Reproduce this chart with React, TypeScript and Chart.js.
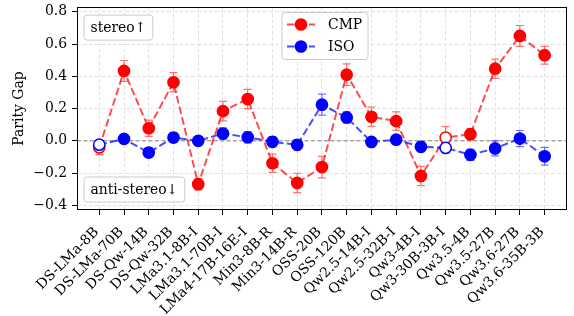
import React, { useEffect, useRef } from "react";
import { Chart, registerables } from "chart.js";

Chart.register(...registerables);

const models = [
  "DS-LMa-8B", "DS-LMa-70B", "DS-Qw-14B", "DS-Qw-32B", "LMa3.1-8B-I", "LMa3.1-70B-I",
  "LMa4-17B-16E-I", "Min3-8B-R", "Min3-14B-R", "OSS-20B", "OSS-120B", "Qw2.5-14B-I",
  "Qw2.5-32B-I", "Qw3-4B-I", "Qw3-30B-3B-I", "Qw3.5-4B", "Qw3.5-27B", "Qw3.6-27B", "Qw3.6-35B-3B",
];
const cmpValues = [-0.041, 0.433, 0.078, 0.363, -0.269, 0.184, 0.259, -0.139, -0.261, -0.163, 0.41, 0.149, 0.122, -0.218, 0.02, 0.041, 0.447, 0.65, 0.531];
const cmpErrors = [0.045, 0.065, 0.05, 0.06, 0.035, 0.06, 0.06, 0.057, 0.06, 0.067, 0.067, 0.06, 0.057, 0.06, 0.068, 0.035, 0.06, 0.065, 0.055];
const isoValues = [-0.024, 0.012, -0.073, 0.02, 0.0, 0.045, 0.022, -0.006, -0.025, 0.224, 0.145, -0.007, 0.007, -0.037, -0.044, -0.087, -0.047, 0.014, -0.096];
const isoErrors = [0.025, 0.025, 0.03, 0.03, 0.025, 0.035, 0.035, 0.03, 0.03, 0.065, 0.035, 0.025, 0.025, 0.03, 0.03, 0.035, 0.047, 0.05, 0.055];
const openMarkers = [0, 14];
const yTicks = [-0.4, -0.2, 0.0, 0.2, 0.4, 0.6, 0.8];
const seriesNames = ["CMP", "ISO"];
const topNote = "stereo\u2191";
const bottomNote = "anti-stereo\u2193";
const yTitle = "Parity Gap";

const FONT = "DejaVu Serif";
const FS = 13.9;
const RED = "#ff0000";
const BLUE = "#0000ff";
const RED_LINE = "rgba(255,0,0,0.7)";
const BLUE_LINE = "rgba(0,0,255,0.7)";
const RED_ERR = "rgba(255,0,0,0.55)";
const BLUE_ERR = "rgba(0,0,255,0.55)";
const errorSets = [cmpErrors, isoErrors];
const errColors = [RED_ERR, BLUE_ERR];
const lineColors = [RED_LINE, BLUE_LINE];
const markerColors = [RED, BLUE];

function roundBox(ctx: CanvasRenderingContext2D, x: number, y: number, w: number, h: number, r: number) {
  ctx.beginPath();
  ctx.moveTo(x + r, y);
  ctx.lineTo(x + w - r, y);
  ctx.arcTo(x + w, y, x + w, y + r, r);
  ctx.lineTo(x + w, y + h - r);
  ctx.arcTo(x + w, y + h, x + w - r, y + h, r);
  ctx.lineTo(x + r, y + h);
  ctx.arcTo(x, y + h, x, y + h - r, r);
  ctx.lineTo(x, y + r);
  ctx.arcTo(x, y, x + r, y, r);
  ctx.closePath();
}

const decorPlugin = {
  id: "decor",
  beforeDatasetsDraw(chart: any) {
    const { ctx, chartArea: a, scales } = chart;
    const xs = scales.x, ys = scales.y;
    ctx.save();
    // zero reference line
    const y0 = ys.getPixelForValue(0);
    ctx.strokeStyle = "#808080";
    ctx.lineWidth = 1;
    ctx.setLineDash([4, 2.5]);
    ctx.beginPath();
    ctx.moveTo(a.left, y0);
    ctx.lineTo(a.right, y0);
    ctx.stroke();
    ctx.setLineDash([]);
    // error bars
    const vals = [cmpValues, isoValues];
    vals.forEach((arr, s) => {
      ctx.strokeStyle = errColors[s];
      ctx.lineWidth = 1.2;
      arr.forEach((v, i) => {
        const e = errorSets[s][i];
        const px = xs.getPixelForValue(i);
        const yt = ys.getPixelForValue(v + e);
        const yb = ys.getPixelForValue(v - e);
        ctx.beginPath();
        ctx.moveTo(px, yt);
        ctx.lineTo(px, yb);
        ctx.moveTo(px - 4, yt);
        ctx.lineTo(px + 4, yt);
        ctx.moveTo(px - 4, yb);
        ctx.lineTo(px + 4, yb);
        ctx.stroke();
      });
    });
    ctx.restore();
  },
  afterDraw(chart: any) {
    const { ctx, chartArea: a } = chart;
    ctx.save();
    // frame
    ctx.strokeStyle = "#000";
    ctx.lineWidth = 1;
    ctx.strokeRect(Math.round(a.left) + 0.5, Math.round(a.top) + 0.5, Math.round(a.right - a.left) - 1, Math.round(a.bottom - a.top) - 1);

    ctx.font = `${FS}px "${FONT}"`;
    ctx.textBaseline = "middle";
    ctx.textAlign = "left";

    // annotation boxes
    const notes = [
      { t: topNote, y: a.top + 8 },
      { t: bottomNote, y: a.bottom - 33 },
    ];
    notes.forEach((n) => {
      const w = ctx.measureText(n.t).width + 13;
      roundBox(ctx, a.left + 7, n.y, w, 25, 3);
      ctx.fillStyle = "rgba(255,255,255,0.85)";
      ctx.fill();
      ctx.strokeStyle = "#cccccc";
      ctx.lineWidth = 1;
      ctx.stroke();
      ctx.fillStyle = "#000";
      ctx.fillText(n.t, a.left + 13.5, n.y + 13);
    });

    // legend
    const lx = 282, ly = 12.5, lw = 86, lh = 47;
    roundBox(ctx, lx, ly, lw, lh, 3);
    ctx.fillStyle = "rgba(255,255,255,0.85)";
    ctx.fill();
    ctx.strokeStyle = "#cccccc";
    ctx.lineWidth = 1;
    ctx.stroke();
    seriesNames.forEach((name, i) => {
      const cy = ly + 12 + i * 22;
      ctx.strokeStyle = lineColors[i];
      ctx.lineWidth = 2;
      ctx.setLineDash([7.7, 3.3]);
      ctx.beginPath();
      ctx.moveTo(lx + 5, cy);
      ctx.lineTo(lx + 33, cy);
      ctx.stroke();
      ctx.setLineDash([]);
      ctx.beginPath();
      ctx.arc(lx + 19, cy, 6.3, 0, Math.PI * 2);
      ctx.fillStyle = markerColors[i];
      ctx.fill();
      ctx.fillStyle = "#000";
      ctx.fillText(name, lx + 46, cy + 1);
    });

    // y title
    ctx.translate(19, (a.top + a.bottom) / 2);
    ctx.rotate(-Math.PI / 2);
    ctx.textAlign = "center";
    ctx.fillText(yTitle, 0, 0);
    ctx.restore();
  },
};

function makeDataset(label: string, values: number[], color: string, line: string, order: number) {
  return {
    label,
    data: values.map((v, i) => ({ x: i, y: v })),
    borderColor: line,
    borderWidth: 2,
    borderDash: [7.7, 3.3],
    pointRadius: 5.6,
    pointBorderWidth: 1.5,
    pointBorderColor: color,
    pointBackgroundColor: values.map((_, i) => (openMarkers.includes(i) ? "#ffffff" : color)),
    pointStyle: "circle",
    tension: 0,
    fill: false,
    order,
  };
}

export default function App() {
  const ref = useRef<HTMLCanvasElement | null>(null);
  useEffect(() => {
    document.body.style.margin = "0";
    const canvas = ref.current!;
    const chart = new Chart(canvas, {
      type: "line",
      data: {
        datasets: [
          makeDataset(seriesNames[0], cmpValues, RED, RED_LINE, 1),
          makeDataset(seriesNames[1], isoValues, BLUE, BLUE_LINE, 0),
        ] as any,
      },
      options: {
        animation: false,
        responsive: false,
        devicePixelRatio: 1,
        layout: { padding: { left: 0, right: 3, top: 5, bottom: 0 } },
        plugins: { legend: { display: false }, tooltip: { enabled: false } },
        scales: {
          x: {
            type: "linear",
            min: -0.9,
            max: 18.9,
            afterBuildTicks: (s: any) => {
              s.ticks = models.map((_, i) => ({ value: i }));
            },
            afterFit: (s: any) => {
              s.height = 106;
              s.paddingLeft = 0;
              s.paddingRight = 0;
            },
            ticks: {
              autoSkip: false,
              minRotation: 45,
              maxRotation: 45,
              padding: 9,
              labelOffset: -2.5,
              color: "#000",
              font: { family: FONT, size: FS },
              callback: (v: any) => models[Math.round(v)] ?? "",
            },
            grid: {
              color: "#e3e3e3",
              lineWidth: 1,
              tickColor: "#000",
              tickLength: 5,
              tickWidth: 1,
              tickBorderDash: [],
            } as any,
            border: { display: false, dash: [4, 2] },
          },
          y: {
            type: "linear",
            min: -0.429,
            max: 0.829,
            afterBuildTicks: (s: any) => {
              s.ticks = yTicks.map((v) => ({ value: v }));
            },
            afterFit: (s: any) => {
              s.width = 77;
              s.paddingTop = 0;
              s.paddingBottom = 0;
            },
            ticks: {
              padding: 5,
              color: "#000",
              font: { family: FONT, size: FS },
              callback: (v: any) => (v < -1e-9 ? "\u2212" : "") + Math.abs(v).toFixed(1),
            },
            grid: {
              color: "#e3e3e3",
              lineWidth: 1,
              tickColor: "#000",
              tickLength: 5,
              tickWidth: 1,
              tickBorderDash: [],
            } as any,
            border: { display: false, dash: [4, 2] },
          },
        },
      },
      plugins: [decorPlugin as any],
    });
    return () => chart.destroy();
  }, []);
  return <canvas ref={ref} width={574} height={316} style={{ display: "block" }} />;
}
